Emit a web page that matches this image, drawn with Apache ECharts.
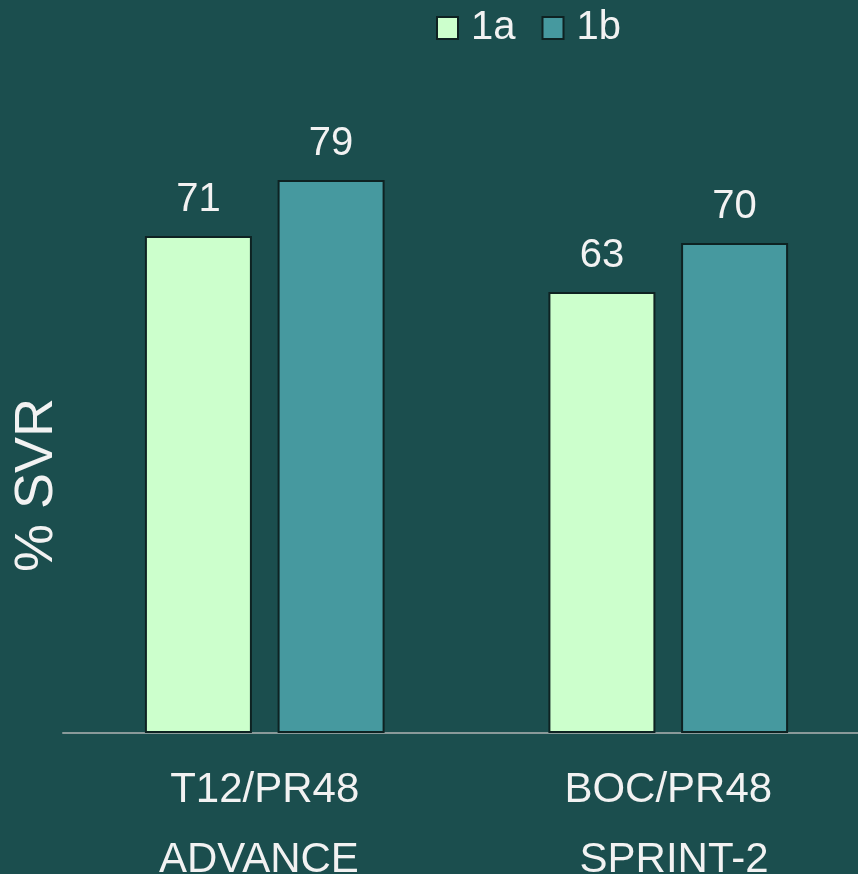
<!DOCTYPE html>
<html>
<head>
<meta charset="utf-8">
<title>% SVR by genotype</title>
<script src="https://cdn.jsdelivr.net/npm/echarts@6/dist/echarts.min.js"></script>
<style>
  html, body { margin: 0; padding: 0; background: #1b4e4e; }
  #chart { width: 858px; height: 874px; }
</style>
</head>
<body>
<div id="chart"></div>
<script>
// Trials (regimen / study name)
const categories = ['T12/PR48\nADVANCE ', 'BOC/PR48\n SPRINT-2'];
// SVR rates (%) by HCV genotype subtype
const seriesNames = ['1a', '1b'];
const values1a = [71, 63];
const values1b = [79, 70];

const FONT = '"Liberation Sans", Arial, sans-serif';
const TEXT = '#f2f2f2';
const BORDER = '#0e2222';

const chart = echarts.init(document.getElementById('chart'), null, { renderer: 'canvas' });

const barLabel = {
  show: true,
  position: 'top',
  distance: 16,
  color: TEXT,
  fontFamily: FONT,
  fontSize: 40
};

chart.setOption({
  backgroundColor: '#1b4e4e',
  animation: false,
  legend: {
    data: seriesNames,
    icon: 'rect',
    left: 431,
    top: 3,
    itemWidth: 21,
    itemHeight: 22,
    itemGap: 26,
    textStyle: { color: TEXT, fontFamily: FONT, fontSize: 40, padding: [0, 0, 0, 8] }
  },
  grid: {
    left: 63, right: -12, top: 33, bottom: 141,
    containLabel: false,
    outerBoundsMode: 'none'
  },
  xAxis: {
    type: 'category',
    data: categories,
    axisLine: { lineStyle: { color: '#8a9a9a', width: 2 } },
    axisTick: { show: false },
    axisLabel: {
      color: TEXT,
      fontFamily: FONT,
      fontSize: 42,
      lineHeight: 70,
      margin: 22
    }
  },
  yAxis: {
    type: 'value',
    min: 0,
    max: 100,
    name: '% SVR',
    nameLocation: 'middle',
    nameGap: -1,
    nameRotate: 90,
    nameTextStyle: {
      color: TEXT,
      fontFamily: FONT,
      fontSize: 54,
      padding: [0, 204, 0, 0]
    },
    axisLine: { show: false },
    axisTick: { show: false },
    axisLabel: { show: false },
    splitLine: { show: false }
  },
  series: [
    {
      name: seriesNames[0],
      type: 'bar',
      data: values1a,
      barWidth: 107,
      barGap: '24%',
      itemStyle: { color: '#ccffcc', borderColor: BORDER, borderWidth: 2 },
      label: barLabel
    },
    {
      name: seriesNames[1],
      type: 'bar',
      data: values1b,
      barWidth: 107,
      itemStyle: { color: '#46999f', borderColor: BORDER, borderWidth: 2 },
      label: barLabel
    }
  ]
});
</script>
</body>
</html>
